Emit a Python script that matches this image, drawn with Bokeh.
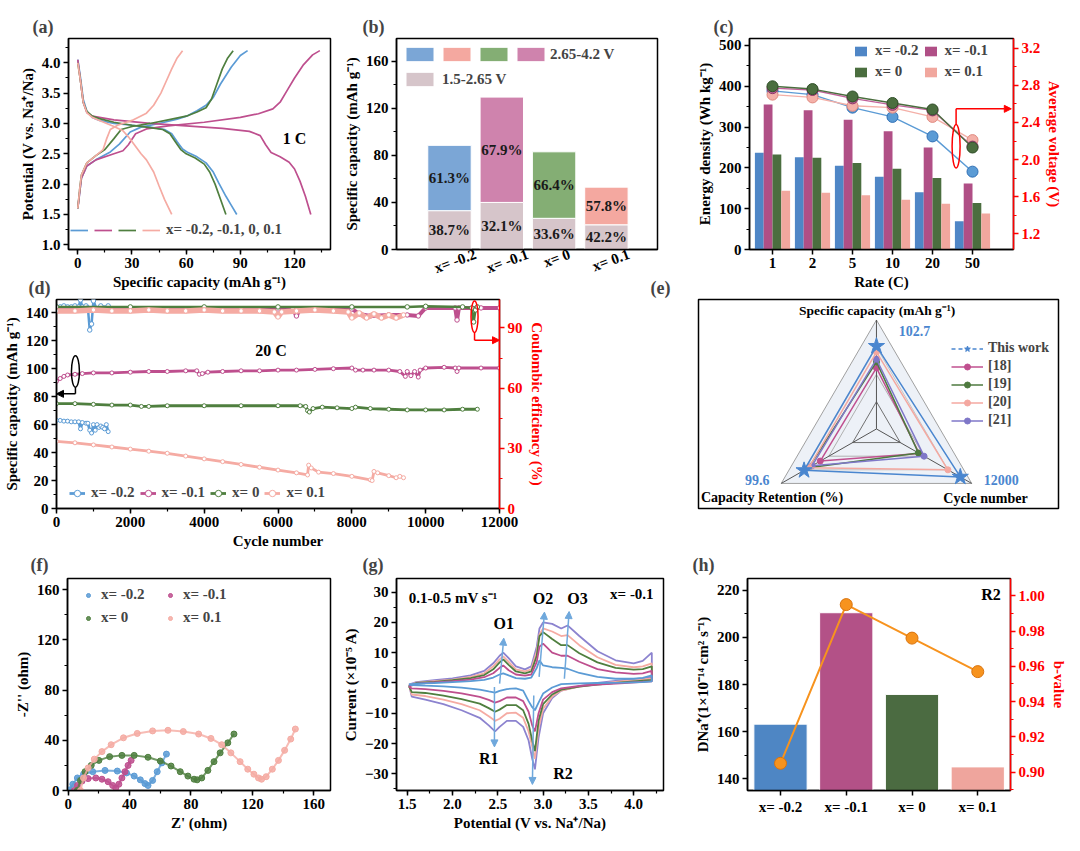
import math
from bokeh.plotting import figure
from bokeh.models import (Range1d, LinearAxis, Legend, LegendItem, Label, LabelSet,
                          Arrow, NormalHead, FixedTicker, SingleIntervalTicker,
                          ColumnDataSource, PrintfTickFormatter)
from bokeh.layouts import row, column
from bokeh.embed import file_html
from bokeh.resources import INLINE
from bokeh.core.properties import value

FONT = "Liberation Serif"

# ======================= DATA =======================
comps = ["x= -0.2", "x= -0.1", "x= 0", "x= 0.1"]

# (a) charge / discharge profiles at 1 C
a_m02_chg_x = [0, 1, 2, 5, 10, 18, 23, 29, 35, 45, 55, 61, 66, 71, 75, 79, 85, 90, 94]
a_m02_chg_y = [1.6, 1.85, 2.1, 2.3, 2.4, 2.53, 2.66, 2.86, 2.94, 3.0, 3.07, 3.13, 3.21, 3.3, 3.43, 3.65, 3.93, 4.12, 4.2]
a_m02_dis_x = [0, 1.5, 3, 5, 8, 12, 20, 30, 40, 48, 52, 55, 58, 61, 66, 71, 75, 78, 82, 85, 88]
a_m02_dis_y = [4.05, 3.75, 3.4, 3.2, 3.1, 3.05, 3.0, 2.97, 2.94, 2.9, 2.83, 2.7, 2.58, 2.52, 2.45, 2.35, 2.2, 2.02, 1.8, 1.65, 1.5]
a_m01_chg_x = [0, 1, 2, 5, 10, 20, 25, 28, 32, 38, 50, 70, 90, 100, 108, 112, 116, 120, 125, 130, 134]
a_m01_chg_y = [1.6, 1.85, 2.1, 2.3, 2.4, 2.5, 2.55, 2.65, 2.83, 2.91, 2.96, 3.02, 3.1, 3.16, 3.24, 3.35, 3.55, 3.75, 3.97, 4.13, 4.2]
a_m01_dis_x = [0, 1.5, 3, 5, 8, 12, 20, 40, 60, 80, 95, 101, 104, 107, 112, 117, 120, 123, 126, 129]
a_m01_dis_y = [4.05, 3.7, 3.35, 3.18, 3.12, 3.1, 3.06, 3.0, 2.96, 2.92, 2.87, 2.8, 2.65, 2.52, 2.45, 2.36, 2.25, 2.05, 1.8, 1.5]
a_0_chg_x = [0, 1, 2, 5, 10, 15, 20, 24, 30, 40, 50, 60, 66, 71, 74, 77, 80, 83, 86]
a_0_chg_y = [1.6, 1.9, 2.15, 2.35, 2.47, 2.57, 2.75, 2.9, 2.95, 3.0, 3.06, 3.12, 3.19, 3.26, 3.4, 3.65, 3.9, 4.08, 4.2]
a_0_dis_x = [0, 1.5, 3, 5, 8, 12, 20, 30, 40, 47, 51, 54, 57, 60, 65, 70, 73, 76, 79, 82]
a_0_dis_y = [4.0, 3.7, 3.35, 3.2, 3.12, 3.08, 3.02, 2.97, 2.93, 2.9, 2.83, 2.7, 2.57, 2.5, 2.43, 2.33, 2.2, 2.0, 1.75, 1.5]
a_01_chg_x = [0, 1, 2, 5, 10, 14, 16, 18, 22, 30, 38, 42, 46, 49, 52, 55, 58]
a_01_chg_y = [1.6, 1.9, 2.15, 2.35, 2.47, 2.57, 2.75, 2.9, 2.97, 3.05, 3.17, 3.3, 3.5, 3.7, 3.9, 4.08, 4.2]
a_01_dis_x = [0, 1.5, 3, 5, 8, 12, 16, 20, 25, 28, 31, 35, 38, 42, 45, 48, 52]
a_01_dis_y = [4.0, 3.7, 3.35, 3.18, 3.1, 3.05, 3.0, 2.95, 2.88, 2.78, 2.66, 2.5, 2.4, 2.2, 1.97, 1.75, 1.5]
a_legend = "x= -0.2, -0.1, 0, 0.1"

# (b) capacity split
b_low = [33.0, 40.0, 26.5, 21.0]
b_total = [88.5, 129.5, 83.0, 53.0]
b_high_pct = ["61.3%", "67.9%", "66.4%", "57.8%"]
b_low_pct = ["38.7%", "32.1%", "33.6%", "42.2%"]
b_hi_name = "2.65-4.2 V"
b_lo_name = "1.5-2.65 V"

# (c) energy density & average voltage vs rate
rates = ["1", "2", "5", "10", "20", "50"]
c_energy_m02 = [237, 226, 205, 178, 140, 69]
c_energy_m01 = [355, 341, 318, 290, 250, 162]
c_energy_0 = [233, 225, 212, 198, 175, 114]
c_energy_01 = [144, 139, 133, 122, 112, 88]
c_volt_m02 = [2.74, 2.70, 2.56, 2.46, 2.25, 1.87]
c_volt_m01 = [2.77, 2.75, 2.66, 2.59, 2.53, 2.14]
c_volt_0 = [2.79, 2.76, 2.68, 2.61, 2.54, 2.13]
c_volt_01 = [2.70, 2.67, 2.58, 2.56, 2.46, 2.21]

# (d) long cycling at 20 C
d_m02_cyc = [0, 100, 200, 300, 400, 500, 600, 650, 700, 800, 850, 900, 950, 1000, 1050, 1100, 1150, 1200, 1250, 1300, 1350, 1400]
d_m02_cap = [63, 63, 62.5, 62.5, 62, 62, 62, 57, 61.5, 61, 61, 56, 54, 60, 56, 60, 58, 59, 58, 57, 60, 55]
d_m01_cyc = [0, 100, 200, 300, 500, 700, 1000, 1500, 2000, 2500, 3000, 3500, 3800, 3870, 3950, 4100, 4500, 5000, 5500, 6000, 6500, 7000, 7500, 8000, 8100, 8300, 8600, 9000, 9300, 9450, 9500, 9600, 9700, 9800, 9850, 10000, 10500, 10800, 10850, 10900, 11500, 12000]
d_m01_cap = [91, 93, 94.5, 95.5, 96, 96.5, 97, 97, 97.5, 98, 98, 98.5, 98.5, 96, 96.5, 97.5, 98, 98.5, 98.5, 99, 99, 99.5, 100, 100.5, 99, 99, 99, 99, 98, 94.5, 98, 95, 98, 94, 99, 100.5, 101, 100.5, 98, 100.5, 100.5, 100.5]
d_0_cyc = [0, 500, 1000, 1500, 2000, 2300, 2500, 3000, 4000, 5000, 6000, 6600, 6750, 6800, 6850, 6950, 7200, 7600, 8000, 8100, 8500, 9000, 9500, 10000, 10500, 11000, 11400]
d_0_cap = [75, 75, 74.5, 74, 74, 73, 73, 73.5, 73.5, 73.5, 73.5, 73.5, 73, 70, 69, 71.5, 72.5, 72, 71.5, 72.5, 71.5, 71, 70.5, 70.5, 70.5, 71, 71]
d_01_cyc = [0, 500, 1000, 1500, 2000, 2500, 3000, 3500, 4000, 4500, 5000, 5500, 6000, 6500, 6800, 6830, 6900, 7100, 7500, 8000, 8500, 8550, 8600, 8700, 9000, 9200, 9300, 9400]
d_01_cap = [48, 47, 45.5, 44, 42.5, 41, 39.5, 37.5, 35.5, 33.5, 31.5, 29.5, 27.5, 25.5, 24, 31, 29, 26, 25, 23, 20.5, 20, 26.5, 25.5, 23.5, 22, 23, 22]
d_m02_ce_cyc = [0, 100, 200, 300, 400, 500, 600, 650, 700, 800, 850, 900, 950, 1000, 1100, 1200, 1300, 1400]
d_m02_ce = [100.5, 100.5, 101, 100.5, 100.5, 101, 100.5, 104, 100.5, 101, 100, 89, 92, 103.5, 99, 101, 100, 101]
d_m01_ce_cyc = [0, 1000, 2000, 3000, 4000, 5000, 6000, 6400, 6500, 6600, 7000, 8000, 8200, 8500, 9000, 9500, 9800, 10000, 10800, 10850, 10900, 11500, 12000]
d_m01_ce = [99.5, 99.5, 99.5, 99.5, 99.5, 99.5, 99.5, 99.5, 96, 99.5, 99.5, 99.5, 97, 96, 96.5, 96.5, 96, 100, 100, 94, 100, 100, 100]
d_0_ce_cyc = [0, 2000, 4000, 6000, 8000, 9500, 10000, 11000, 11250, 11300, 11350, 11400]
d_0_ce = [100.5, 100.5, 100.5, 100.5, 100.5, 100.5, 100.8, 100.5, 100, 93, 99, 100.5]
d_01_ce_cyc = [0, 500, 1000, 1500, 2000, 2500, 3000, 3500, 4000, 4500, 5000, 5500, 5900, 6000, 6100, 6500, 7000, 7500, 7900, 8000, 8200, 8400, 8600, 8800, 9000, 9200, 9400]
d_01_ce = [98.5, 98.5, 99, 98.5, 98.5, 99, 98.5, 98.5, 99, 98.5, 98.5, 98.5, 98, 95.5, 98, 98.5, 99, 98.5, 98, 95, 97.5, 95, 97, 95, 96.5, 95, 96.5]

# (e) radar comparison (normalised radius per axis)
e_axes = ["Specific capacity (mAh g\u207b\u00b9)", "Cycle number", "Capacity Retention (%)"]
e_axis_angles = [90, 330, 210]
e_axis_max = ["102.7", "12000", "99.6"]
e_names = ["This work", "[18]", "[19]", "[20]", "[21]"]
e_this = [0.76, 0.88, 0.76]
e_r18 = [0.56, 0.45, 0.59]
e_r19 = [0.615, 0.44, 0.71]
e_r20 = [0.706, 0.75, 0.71]
e_r21 = [0.64, 0.50, 0.675]

# (f) Nyquist plots
f_m02_x = [1, 3, 6, 10, 16, 24, 32, 38, 43, 47, 50, 52, 55, 58, 61, 64]
f_m02_y = [0.5, 5, 10, 13, 15, 16, 15.5, 14, 11.5, 8.5, 5.5, 4, 8, 15, 22, 29]
f_m01_x = [4, 6, 9, 13, 18, 22, 26, 29, 31, 33, 35, 37, 39, 41]
f_m01_y = [0, 4, 7.5, 9.5, 10, 9, 7, 4, 2, 5, 10, 15, 20, 24]
f_0_x = [6, 8, 11, 15, 20, 27, 35, 43, 52, 60, 67, 73, 78, 82, 84, 87, 91, 95, 99, 104, 108]
f_0_y = [0, 8, 15, 20, 24, 27, 28, 28, 26.5, 23.5, 19.5, 15, 11.5, 9, 8.5, 10, 16, 23, 30, 38, 45]
f_01_x = [8, 10, 13, 17, 22, 28, 36, 45, 55, 65, 75, 85, 93, 100, 106, 112, 117, 121, 124, 126, 129, 133, 137, 141, 145, 148]
f_01_y = [0, 10, 18, 25, 31, 36.5, 42, 45.5, 47.5, 48, 47, 45, 41.5, 36.5, 30, 23, 17, 13, 10, 9, 11, 17, 24, 32, 41, 49]

# (g) CV curves of x=-0.1 at 0.1-0.5 mV/s
g_rates = ["0.1", "0.2", "0.3", "0.4", "0.5"]
g_v_an = [1.52, 1.6, 1.8, 2.0, 2.2, 2.35, 2.45, 2.52, 2.56, 2.62, 2.7, 2.8, 2.87, 2.93, 2.96, 3.0, 3.1, 3.2, 3.27, 3.4, 3.6, 3.8, 4.0, 4.1, 4.2]
g_v_cat = [4.2, 4.1, 3.9, 3.6, 3.4, 3.2, 3.1, 3.0, 2.95, 2.91, 2.88, 2.84, 2.78, 2.7, 2.6, 2.52, 2.47, 2.4, 2.3, 2.1, 1.9, 1.7, 1.55, 1.52]
g_i_an_01 = [-0.5, -0.2, 0.0, 0.3, 0.6, 1.0, 1.8, 2.8, 3.2, 2.5, 1.6, 1.4, 1.8, 5.0, 7.5, 5.8, 5.2, 5.0, 4.7, 3.3, 2.0, 1.4, 1.4, 1.7, 2.5]
g_i_cat_01 = [0.5, 0.3, 0.1, 0.0, -0.1, -0.4, -1.5, -3.5, -6.5, -9.0, -8.0, -6.0, -2.5, -1.8, -2.0, -2.6, -3.2, -2.8, -2.2, -1.5, -1.1, -0.9, -0.7, -0.5]
g_i_an_02 = [-1.2, -0.2, 0.2, 0.6, 1.1, 1.9, 3.2, 5.0, 5.8, 4.2, 2.8, 2.4, 2.8, 7.0, 12.0, 13.0, 10.0, 9.0, 9.0, 7.0, 4.6, 3.5, 3.0, 3.2, 4.0]
g_i_cat_02 = [0.5, 0.4, 0.0, -0.5, -1.0, -1.8, -3.0, -5.5, -10.0, -16.0, -14.0, -9.5, -6.0, -4.8, -4.8, -6.0, -6.5, -5.6, -4.6, -3.4, -2.6, -2.0, -1.8, -1.2]
g_i_an_03 = [-1.0, 0.0, 0.4, 0.9, 1.6, 2.6, 4.5, 6.8, 7.8, 6.0, 3.8, 3.2, 3.8, 9.0, 15.5, 16.8, 14.5, 12.5, 12.5, 9.8, 6.8, 5.0, 4.4, 4.6, 5.5]
g_i_cat_03 = [1.0, 0.8, 0.3, -0.5, -1.2, -2.2, -3.8, -7.0, -12.5, -22.5, -19.0, -13.5, -9.0, -7.3, -7.3, -8.8, -9.5, -8.3, -6.8, -5.3, -4.2, -3.3, -3.0, -1.0]
g_i_an_04 = [-0.8, 0.1, 0.6, 1.1, 2.0, 3.2, 5.5, 7.8, 8.8, 7.0, 4.5, 3.8, 4.5, 10.5, 16.0, 18.0, 17.0, 15.5, 15.8, 12.5, 8.5, 6.0, 5.2, 5.5, 6.5]
g_i_cat_04 = [1.5, 1.2, 0.7, -0.3, -1.2, -2.5, -4.5, -8.5, -15.0, -25.0, -21.0, -16.0, -11.5, -9.8, -10.0, -11.8, -12.5, -11.0, -9.0, -7.0, -5.5, -4.3, -3.8, -0.8]
g_i_an_05 = [-0.5, 0.3, 0.9, 1.5, 2.5, 4.0, 6.5, 9.0, 10.0, 8.2, 5.5, 4.5, 5.5, 12.0, 18.0, 20.0, 19.5, 18.0, 19.0, 15.5, 10.5, 7.5, 6.5, 7.3, 10.0]
g_i_cat_05 = [2.0, 1.5, 1.0, 0.0, -1.0, -2.5, -5.0, -10.0, -18.0, -28.5, -25.0, -19.0, -14.5, -12.5, -12.5, -14.5, -16.0, -14.0, -11.5, -9.0, -7.0, -5.5, -4.5, -0.5]

# (h) diffusion coefficient (R2) and b-value
h_D = [163.2, 210.4, 175.8, 145.1]
h_b = [0.905, 0.995, 0.976, 0.957]

# ======================= HELPERS =======================
def mkfig(w, h, xr, yr, bl, br, bt, bb, letter=None, loff=0, lstand=4, mtop=0, axes=True):
    kw = {}
    if not axes:
        kw["x_axis_location"] = None
        kw["y_axis_location"] = None
    p = figure(width=w, height=h, x_range=Range1d(*xr), y_range=Range1d(*yr),
               output_backend="svg", toolbar_location=None, title=letter,
               min_border_left=bl, min_border_right=br,
               min_border_top=bt, min_border_bottom=bb,
               margin=(mtop, 0, 0, 0), **kw)
    p.grid.visible = False
    p.outline_line_color = "black"
    p.outline_line_width = 1.5
    p.outline_line_alpha = 1
    p.border_fill_alpha = 0
    if letter is not None:
        p.title.text_font = FONT
        p.title.text_font_style = "bold"
        p.title.text_font_size = "18px"
        p.title.align = "left"
        p.title.offset = loff
        p.title.standoff = lstand
    return p


def style_ax(ax, color="black"):
    ax.axis_line_width = 1.5
    ax.axis_line_color = color
    ax.major_tick_line_width = 1.5
    ax.major_tick_line_color = color
    ax.minor_tick_line_width = 1.2
    ax.minor_tick_line_color = color
    ax.major_tick_out = 5
    ax.major_tick_in = 0
    ax.minor_tick_out = 3
    ax.minor_tick_in = 0
    ax.major_label_text_font = FONT
    ax.major_label_text_font_style = "bold"
    ax.major_label_text_font_size = "15px"
    ax.major_label_text_color = color
    ax.axis_label_text_font = FONT
    ax.axis_label_text_font_style = "bold"
    ax.axis_label_text_font_size = "15px"
    ax.axis_label_text_color = color
    ax.major_label_standoff = 3
    ax.axis_label_standoff = 3


def style_all(p):
    for ax in list(p.xaxis) + list(p.yaxis):
        style_ax(ax)


def txt(p, x, y, s, size="15px", color="black", align="center", baseline="middle",
        angle=0.0, y_range_name="default"):
    p.add_layout(Label(x=x, y=y, text=s, text_font=FONT,
                       text_font_style="bold", text_font_size=size, text_color=color,
                       text_align=align, text_baseline=baseline, angle=angle,
                       y_range_name=y_range_name))


def mklegend(items, loc, size="15px", **kw):
    return Legend(items=items, location=loc, padding=0, margin=0,
                  border_line_alpha=0, background_fill_alpha=0,
                  label_text_font=FONT, label_text_font_style="bold",
                  label_text_font_size=size, **kw)


def arrow(p, x0, y0, x1, y1, color, size=7, width=1.5, y_range_name="default"):
    p.add_layout(Arrow(end=NormalHead(size=size, fill_color=color, line_color=color),
                       x_start=x0, y_start=y0, x_end=x1, y_end=y1,
                       line_color=color, line_width=width, y_range_name=y_range_name))


# ======================= (a) =======================
fa = mkfig(338, 294, (-5.15, 139.9), (0.923, 4.40), 68, 8, 38, 45, "(a)", -36)
A_COL = ["#5B9BD5", "#BE4F8E", "#4F7F3F", "#F5ABA3"]
a_sets = [(a_m02_chg_x, a_m02_chg_y, a_m02_dis_x, a_m02_dis_y),
          (a_m01_chg_x, a_m01_chg_y, a_m01_dis_x, a_m01_dis_y),
          (a_0_chg_x, a_0_chg_y, a_0_dis_x, a_0_dis_y),
          (a_01_chg_x, a_01_chg_y, a_01_dis_x, a_01_dis_y)]
a_r = []
for (cx, cy, dx, dy), col in zip(a_sets, A_COL):
    fa.line(cx, cy, line_color=col, line_width=1.7)
    a_r.append(fa.line(dx, dy, line_color=col, line_width=1.7))
fa.xaxis.ticker = SingleIntervalTicker(interval=30, num_minor_ticks=2)
fa.yaxis.ticker = SingleIntervalTicker(interval=0.5, num_minor_ticks=2)
fa.yaxis.formatter = PrintfTickFormatter(format="%.1f")
fa.xaxis.axis_label = "Specific capacity (mAh g\u207b\u00b9)"
fa.yaxis.axis_label = "Potential (V vs. Na\u207a/Na)"
style_all(fa)
a_items = [LegendItem(label="", renderers=[a_r[i]]) for i in range(3)]
a_items.append(LegendItem(label=a_legend, renderers=[a_r[3]]))
fa.add_layout(mklegend(a_items, (2, 11), orientation="horizontal", glyph_width=18,
                       glyph_height=14, label_height=14, label_width=0,
                       label_standoff=6, spacing=0))
txt(fa, 120, 2.75, "1 C", size="16px")

# ======================= (b) =======================
fb = mkfig(352, 294, (-0.013, 4.977), (0, 179.3), 58, 33, 38, 45, "(b)", -34)
B_HI = ["#7BA6D6", "#CF83AD", "#84AE74", "#F4A8A0"]
B_LO = "#D6C5CA"
xs4 = [1, 2, 3, 4]
r_lo = fb.vbar(x=xs4, bottom=0, top=b_low, width=0.83, fill_color=B_LO,
               line_color="white", line_width=1)
r_hi = []
for i in range(4):
    r_hi.append(fb.vbar(x=[xs4[i]], bottom=[b_low[i]], top=[b_total[i]], width=0.83,
                        fill_color=B_HI[i], line_color="white", line_width=1))
b_src = ColumnDataSource(dict(
    x=xs4,
    yh=[(lo + tot) / 2 for lo, tot in zip(b_low, b_total)],
    yl=[lo / 2 for lo in b_low],
    th=b_high_pct, tl=b_low_pct))
for yk, tk in (("yh", "th"), ("yl", "tl")):
    fb.add_layout(LabelSet(x="x", y=yk, text=tk, source=b_src, text_align="center",
                           text_baseline="middle", text_font=value(FONT),
                           text_font_style="bold", text_font_size="15px",
                           text_color="#1a1a1a"))
# rotated category labels: right end of each label anchored a bit right of the bar
b_tick = [xv + 0.03 + 0.47 * len(c) / 7.0 for xv, c in zip(xs4, comps)]
fb.xaxis.ticker = FixedTicker(ticks=b_tick)
fb.xaxis.major_label_overrides = {t: c for t, c in zip(b_tick, comps)}
fb.yaxis.ticker = SingleIntervalTicker(interval=40, num_minor_ticks=2)
fb.yaxis.axis_label = "Specific capacity (mAh g\u207b\u00b9)"
style_all(fb)
fb.xaxis.major_tick_out = 0
fb.xaxis.major_label_orientation = 0.35
fb.xaxis.major_label_standoff = 4
b_order = [0, 3, 2, 1]
b_items = [LegendItem(label="", renderers=[r_hi[i]]) for i in b_order[:3]]
b_items.append(LegendItem(label=b_hi_name, renderers=[r_hi[b_order[3]]]))
fb.add_layout(mklegend(b_items, (6, 186), orientation="horizontal", glyph_width=35,
                       glyph_height=18, label_height=18, label_width=0,
                       label_standoff=2, spacing=0))
fb.add_layout(mklegend([LegendItem(label=b_lo_name, renderers=[r_lo])], (6, 161),
                       glyph_width=35, glyph_height=18, label_height=18,
                       label_standoff=5))

# ======================= (c) =======================
fc = mkfig(382, 294, (0.425, 7.025), (0, 517), 59, 59, 38, 45, "(c)", -36)
fc.extra_y_ranges = {"v": Range1d(1.031, 3.305)}
C_BAR = ["#4F86C6", "#B04F86", "#4B6E3F", "#F1A79E"]
C_LINE = ["#5B9BD5", "#C0609A", "#4B6E3F", "#F4B0A8"]
C_EDGE = ["#2F6FB5", "#8E3468", "#2F4F27", "#E08A80"]
pos = [i + 1 for i in range(len(rates))]
offs = [-0.33, -0.11, 0.11, 0.33]
c_E = [c_energy_m02, c_energy_m01, c_energy_0, c_energy_01]
c_V = [c_volt_m02, c_volt_m01, c_volt_0, c_volt_01]
c_r = []
for i in range(4):
    c_r.append(fc.vbar(x=[p_ + offs[i] for p_ in pos], top=c_E[i], width=0.22,
                       fill_color=C_BAR[i], line_color=None))
for i in (0, 3, 1, 2):
    fc.line(pos, c_V[i], y_range_name="v", line_color=C_LINE[i], line_width=1.4)
    fc.scatter(pos, c_V[i], y_range_name="v", size=11, fill_color=C_LINE[i],
               line_color=C_EDGE[i], line_width=1)
fc.xaxis.ticker = FixedTicker(ticks=pos)
fc.xaxis.major_label_overrides = {p_: r for p_, r in zip(pos, rates)}
fc.yaxis.ticker = SingleIntervalTicker(interval=100, num_minor_ticks=2)
fc.xaxis.axis_label = "Rate (C)"
fc.yaxis.axis_label = "Energy density (Wh kg\u207b\u00b9)"
style_all(fc)
c_ax = LinearAxis(y_range_name="v", axis_label="Average voltage (V)",
                  ticker=SingleIntervalTicker(interval=0.4, num_minor_ticks=2),
                  formatter=PrintfTickFormatter(format="%.1f"))
style_ax(c_ax, "#FF0000")
fc.add_layout(c_ax, "right")
fc.add_layout(mklegend([LegendItem(label=comps[i], renderers=[c_r[i]]) for i in range(4)],
                       (104, 169), orientation="horizontal", ncols=2, glyph_width=15,
                       glyph_height=12, label_height=16, label_standoff=7, spacing=4))
fc.ellipse(x=[5.59], y=[2.144], width=[0.2], height=[0.47], y_range_name="v",
           fill_color=None, line_color="#FF0000", line_width=1.5)
fc.line([5.59, 5.59], [2.379, 2.547], y_range_name="v", line_color="#FF0000", line_width=1.5)
arrow(fc, 5.59, 2.547, 6.97, 2.547, "#FF0000", y_range_name="v")

# ======================= (d) =======================
# row 2 figures are pulled up (negative margin) so that their letters sit beside row 1's axis titles
fd = mkfig(625, 302, (0, 12000), (0, 149.5), 55, 126, 24, 67, "(d)", -28, 4, -21)
fd.extra_y_ranges = {"ce": Range1d(0, 104.2)}
D_COL = ["#5B9BD5", "#BE4F8E", "#4F7F3F", "#F5ABA3"]
D_CE_W = [2.5, 4.0, 2.5, 5.5]
d_cap = [(d_m02_cyc, d_m02_cap), (d_m01_cyc, d_m01_cap), (d_0_cyc, d_0_cap), (d_01_cyc, d_01_cap)]
d_ce = [(d_m02_ce_cyc, d_m02_ce), (d_m01_ce_cyc, d_m01_ce), (d_0_ce_cyc, d_0_ce), (d_01_ce_cyc, d_01_ce)]
for (cx, cy), col, lw in zip(d_ce, D_COL, D_CE_W):
    fd.line(cx, cy, y_range_name="ce", line_color=col, line_width=lw)
    fd.scatter(cx, cy, y_range_name="ce", size=4.5, fill_color="white",
               line_color=col, line_width=1)
d_r = []
for (cx, cy), col in zip(d_cap, D_COL):
    rl = fd.line(cx, cy, line_color=col, line_width=2.8)
    rs = fd.scatter(cx, cy, size=4, fill_color="white", line_color=col, line_width=1)
    d_r.append([rl, rs])
fd.xaxis.ticker = SingleIntervalTicker(interval=2000, num_minor_ticks=2)
fd.yaxis.ticker = SingleIntervalTicker(interval=20, num_minor_ticks=2)
fd.xaxis.axis_label = "Cycle number"
fd.yaxis.axis_label = "Specific capacity (mAh g\u207b\u00b9)"
style_all(fd)
d_ax = LinearAxis(y_range_name="ce", axis_label="Coulombic efficiency (%)",
                  ticker=SingleIntervalTicker(interval=30, num_minor_ticks=2))
style_ax(d_ax, "#FF0000")
fd.add_layout(d_ax, "right")
fd.add_layout(mklegend([LegendItem(label=comps[i], renderers=d_r[i]) for i in range(4)],
                       (13, 7), orientation="horizontal", glyph_width=16, glyph_height=16,
                       label_height=16, label_standoff=6, spacing=5))
txt(fd, 5810, 113, "20 C", size="16px")
fd.ellipse(x=[513], y=[98], width=[216], height=[22.4], fill_color=None,
           line_color="black", line_width=1.5)
fd.line([513, 513], [86.8, 82], line_color="black", line_width=1.5)
arrow(fd, 513, 82, 0, 82, "black")
fd.ellipse(x=[11324], y=[95.6], width=[190], height=[15.7], y_range_name="ce",
           fill_color=None, line_color="#FF0000", line_width=1.5)
fd.line([11324, 11324], [87.75, 83.9], y_range_name="ce", line_color="#FF0000", line_width=1.5)
arrow(fd, 11324, 83.9, 12000, 83.9, "#FF0000", y_range_name="ce")

# ======================= (e) =======================
fe = mkfig(447, 302, (-1.618, 1.655), (-0.730, 1.188), 73, 14, 24, 67, "(e)", -48, 4, -21,
           axes=False)
ang = [math.radians(a) for a in e_axis_angles]


def poly(vals):
    xs = [v * math.cos(a) for v, a in zip(vals, ang)]
    ys = [v * math.sin(a) for v, a in zip(vals, ang)]
    return xs + [xs[0]], ys + [ys[0]]


ox, oy = poly([1, 1, 1])
fe.patch(ox, oy, fill_color="#EDF1F7", line_color="#A0A0A0", line_width=1)
for lv, lc in ((0.75, "#C4C4C4"), (0.5, "#B0B0B0"), (0.25, "#707070")):
    gx, gy = poly([lv] * 3)
    fe.line(gx, gy, line_color=lc, line_width=1)
for a in ang:
    fe.line([0, math.cos(a)], [0, math.sin(a)], line_color="#555555", line_width=1)
E_COL = ["#4A86CF", "#C0508F", "#4E7A3F", "#F4A8A0", "#7F77C8"]
e_vals = [e_this, e_r18, e_r19, e_r20, e_r21]
e_rend = {}
for i in (1, 2, 4, 3):
    px, py = poly(e_vals[i])
    rl = fe.line(px, py, line_color=E_COL[i], line_width=1.5)
    rs = fe.scatter(px[:3], py[:3], size=6, fill_color=E_COL[i], line_color=E_COL[i])
    e_rend[i] = [rl, rs]
px, py = poly(e_this)
fe.line(px, py, line_color=E_COL[0], line_width=1.5)
fe.scatter(px[:3], py[:3], marker="star", size=17, fill_color=E_COL[0], line_color=E_COL[0])
# legend-only renderers (placed outside the visible ranges)
leg_l = fe.line([8, 9], [8, 8], line_color=E_COL[0], line_width=1.5, line_dash="4 3")
leg_s = fe.scatter([8.5], [8], marker="star", size=15, fill_color=E_COL[0], line_color=E_COL[0])
e_items = [LegendItem(label=e_names[0], renderers=[leg_l, leg_s])]
e_items += [LegendItem(label=e_names[i], renderers=e_rend[i]) for i in range(1, 5)]
fe.add_layout(mklegend(e_items, (253, 80), size="14px", glyph_width=32, glyph_height=15,
                       label_height=15, label_standoff=5, spacing=2))
txt(fe, 0.006, 1.085, e_axes[0], size="13.5px")
txt(fe, 0.991, -0.642, e_axes[1], size="14px")
txt(fe, -0.949, -0.627, e_axes[2], size="14px")
txt(fe, 0.345, 0.895, e_axis_max[0], size="14px", color="#4A86CF")
txt(fe, 1.134, -0.466, e_axis_max[1], size="14px", color="#4A86CF")
txt(fe, -1.085, -0.466, e_axis_max[2], size="14px", color="#4A86CF")

# ======================= (f) =======================
ff = mkfig(338, 303, (-0.45, 170.9), (0, 169.0), 67, 8, 30, 61, "(f)", -37, 8, -27)
F_COL = ["#5B9BD5", "#BE4F8E", "#4F7F3F", "#F5ABA3"]
f_sets = [(f_m02_x, f_m02_y), (f_m01_x, f_m01_y), (f_0_x, f_0_y), (f_01_x, f_01_y)]
f_r = []
for (fx, fy), col in zip(f_sets, F_COL):
    ff.line(fx, fy, line_color=col, line_width=2, line_alpha=0.8)
    f_r.append(ff.scatter(fx, fy, size=6, fill_color=col, line_color=col, fill_alpha=0.85))
ff.xaxis.ticker = SingleIntervalTicker(interval=40, num_minor_ticks=2)
ff.yaxis.ticker = SingleIntervalTicker(interval=40, num_minor_ticks=2)
ff.xaxis.axis_label = "Z' (ohm)"
ff.yaxis.axis_label = "-Z'' (ohm)"
style_all(ff)
ff.add_layout(mklegend([LegendItem(label=comps[i], renderers=[f_r[i]]) for i in range(4)],
                       (16, 164), orientation="horizontal", ncols=2, glyph_width=10,
                       glyph_height=14, label_height=16, label_width=58,
                       label_standoff=8, spacing=6))

# ======================= (g) =======================
fg = mkfig(340, 303, (1.382, 4.329), (-35.5, 34.5), 58, 15, 30, 61, "(g)", -34, 8, -27)
G_COL = ["#5B9BD5", "#BE4F8E", "#4F7F3F", "#F5ABA3", "#8C83CF"]
g_an = [g_i_an_01, g_i_an_02, g_i_an_03, g_i_an_04, g_i_an_05]
g_cat = [g_i_cat_01, g_i_cat_02, g_i_cat_03, g_i_cat_04, g_i_cat_05]
for k in range(4, -1, -1):
    vx = g_v_an + g_v_cat + [g_v_an[0]]
    iy = g_an[k] + g_cat[k] + [g_an[k][0]]
    fg.line(vx, iy, line_color=G_COL[k], line_width=1.8)
fg.xaxis.ticker = SingleIntervalTicker(interval=0.5, num_minor_ticks=2)
fg.xaxis.formatter = PrintfTickFormatter(format="%.1f")
fg.yaxis.ticker = SingleIntervalTicker(interval=10, num_minor_ticks=2)
fg.xaxis.axis_label = "Potential (V vs. Na\u207a/Na)"
fg.yaxis.axis_label = "Current (\u00d710\u207b\u2075 A)"
style_all(fg)
ARW = "#6FA8DC"
arrow(fg, 2.52, -0.2, 2.566, 14.8, ARW)
arrow(fg, 2.956, 2.0, 3.015, 23.4, ARW)
arrow(fg, 3.235, 1.4, 3.287, 23.6, ARW)
arrow(fg, 2.463, -1.3, 2.463, -21.1, ARW)
arrow(fg, 2.897, -4.1, 2.882, -33.5, ARW)
txt(fg, 1.518, 28, "0.1-0.5 mV s\u207b\u00b9", align="left")
txt(fg, 4.22, 29.5, "x= -0.1", align="right")
txt(fg, 2.566, 19.6, "O1", size="16px")
txt(fg, 3.0, 27.8, "O2", size="16px")
txt(fg, 3.38, 27.8, "O3", size="16px")
txt(fg, 2.40, -24.9, "R1", size="16px")
txt(fg, 3.22, -29.9, "R2", size="16px")

# ======================= (h) =======================
fh = mkfig(394, 303, (0.498, 4.498), (135.1, 224.9), 69, 62, 30, 61, "(h)", -55, 8, -27)
fh.extra_y_ranges = {"b": Range1d(0.8896, 1.0098)}
H_COL = ["#4E86C4", "#B35187", "#4B6B41", "#EFA59D"]
fh.vbar(x=xs4, bottom=135.1, top=h_D, width=0.81, fill_color=H_COL, line_color="white")
fh.line(xs4, h_b, y_range_name="b", line_color="#F7931E", line_width=2)
fh.scatter(xs4, h_b, y_range_name="b", size=12, fill_color="#F7931E", line_color="#D9730D")
fh.xaxis.ticker = FixedTicker(ticks=xs4)
fh.xaxis.major_label_overrides = {p_: c for p_, c in zip(xs4, comps)}
fh.yaxis.ticker = SingleIntervalTicker(interval=20, num_minor_ticks=2)
fh.yaxis.axis_label = "DNa\u207a(1\u00d710\u207b\u00b9\u2074 cm\u00b2 s\u207b\u00b9)"
style_all(fh)
h_ax = LinearAxis(y_range_name="b", axis_label="b-value",
                  ticker=SingleIntervalTicker(interval=0.02, num_minor_ticks=2),
                  formatter=PrintfTickFormatter(format="%.2f"))
style_ax(h_ax, "#FF0000")
fh.add_layout(h_ax, "right")
txt(fh, 4.35, 218, "R2", size="16px", align="right")

# ======================= LAYOUT =======================
layout = column(row(fa, fb, fc), row(fd, fe), row(ff, fg, fh))
open("out.html", "w").write(file_html(layout, INLINE, title="chart"))
